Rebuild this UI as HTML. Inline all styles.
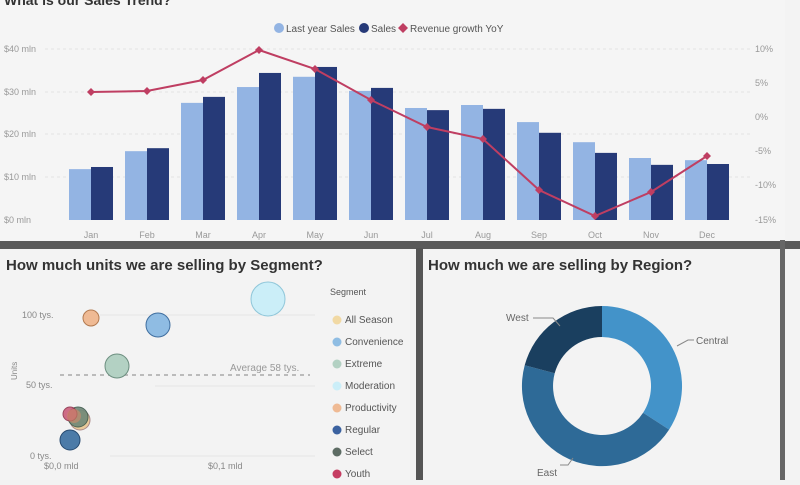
<!DOCTYPE html><html><head><meta charset="utf-8"><style>
body{margin:0;width:800px;height:480px;overflow:hidden;background:#f2f2f2;font-family:"Liberation Sans",sans-serif}
</style></head><body>
<svg width="800" height="480" xmlns="http://www.w3.org/2000/svg" font-family="Liberation Sans, sans-serif">
<rect width="800" height="480" fill="#f3f3f3"/>
<rect x="0" y="0" width="785" height="243" fill="#f5f5f5"/>
<rect x="0" y="241" width="800" height="8" fill="#5a5a5a"/>
<rect x="416" y="248" width="7" height="232" fill="#555"/>
<rect x="780" y="240" width="5" height="240" fill="#666"/>
<text x="4" y="5" font-size="14" font-weight="bold" fill="#333">What is our Sales Trend?</text>
<circle cx="279" cy="28" r="5" fill="#93b4e3"/><text x="286" y="32" font-size="10" fill="#555">Last year Sales</text>
<circle cx="364" cy="28" r="5" fill="#263a78"/><text x="371" y="32" font-size="10" fill="#555">Sales</text>
<path d="M403 23l5 5-5 5-5-5z" fill="#bf3e62"/><text x="410" y="32" font-size="10" fill="#555">Revenue growth YoY</text>
<g font-size="9" fill="#999">
<text x="4" y="52">$40 mln</text><text x="4" y="95">$30 mln</text><text x="4" y="137">$20 mln</text><text x="4" y="180">$10 mln</text><text x="4" y="223">$0 mln</text>
<text x="755" y="52">10%</text><text x="755" y="86">5%</text><text x="755" y="120">0%</text><text x="755" y="154">-5%</text><text x="755" y="188">-10%</text><text x="755" y="223">-15%</text>
</g>
<g stroke="#e2e2e2" stroke-dasharray="3,3"><line x1="45" y1="49" x2="750" y2="49"/><line x1="45" y1="92" x2="750" y2="92"/><line x1="45" y1="134" x2="750" y2="134"/><line x1="45" y1="177" x2="750" y2="177"/></g>
<g id="bars"></g>
<g font-size="9" fill="#999" text-anchor="middle" id="months"></g>
<polyline id="ln" fill="none" stroke="#bf3e62" stroke-width="2"/>
<g id="pts" fill="#bf3e62"></g>
<text x="6" y="270" font-size="15" font-weight="bold" fill="#333">How much units we are selling by Segment?</text>
<g font-size="9" fill="#888">
<text x="22" y="318">100 tys.</text><text x="26" y="388">50 tys.</text><text x="30" y="459">0 tys.</text>
<text x="44" y="469">$0,0 mld</text><text x="208" y="469">$0,1 mld</text>
<text x="17" y="380" transform="rotate(-90 17 380)" font-size="8">Units</text>
<text x="230" y="371" font-size="10" fill="#999">Average 58 tys.</text>
</g>
<g stroke="#e6e6e6"><line x1="100" y1="315" x2="315" y2="315"/><line x1="155" y1="386" x2="315" y2="386"/><line x1="110" y1="456" x2="315" y2="456"/></g>
<line x1="60" y1="375" x2="310" y2="375" stroke="#bbb" stroke-width="2" stroke-dasharray="4,4"/>
<g stroke-width="1">
<circle cx="268" cy="299" r="17" fill="#cbeef8" stroke="#8fc6d9"/>
<circle cx="91" cy="318" r="8" fill="#efba94" stroke="#b37a50"/>
<circle cx="158" cy="325" r="12" fill="#8fbce3" stroke="#3f6e9f"/>
<circle cx="117" cy="366" r="12" fill="#b3d1c3" stroke="#6d8f80"/>
<circle cx="80" cy="420" r="10" fill="#e9c99a" stroke="#a88"/>
<circle cx="78" cy="417" r="10" fill="#708878" stroke="#3e5a4c" opacity=".9"/>
<circle cx="70" cy="414" r="7" fill="#c85574" stroke="#8a2a45" opacity=".85"/>
<circle cx="74" cy="416" r="7" fill="#d08a6a" opacity=".6"/>
<circle cx="70" cy="440" r="10" fill="#4c7ba8" stroke="#274a70"/>
</g>
<g font-size="10" fill="#555">
<text x="330" y="295" font-size="9">Segment</text>
<circle cx="337" cy="320" r="4.5" fill="#f1d9a4"/><text x="345" y="323">All Season</text>
<circle cx="337" cy="342" r="4.5" fill="#8fbde3"/><text x="345" y="345">Convenience</text>
<circle cx="337" cy="364" r="4.5" fill="#b3d1c3"/><text x="345" y="367">Extreme</text>
<circle cx="337" cy="386" r="4.5" fill="#cbeef8"/><text x="345" y="389">Moderation</text>
<circle cx="337" cy="408" r="4.5" fill="#efba94"/><text x="345" y="411">Productivity</text>
<circle cx="337" cy="430" r="4.5" fill="#3b62a0"/><text x="345" y="433">Regular</text>
<circle cx="337" cy="452" r="4.5" fill="#5d6c64"/><text x="345" y="455">Select</text>
<circle cx="337" cy="474" r="4.5" fill="#c53d62"/><text x="345" y="477">Youth</text>
</g>
<text x="428" y="270" font-size="15" font-weight="bold" fill="#333">How much we are selling by Region?</text>
<g id="donut"></g>
<g font-size="10" fill="#666" stroke="#888" stroke-width="1">
<polyline points="533,318 553,318 560,326" fill="none"/><text x="506" y="321" stroke="none">West</text>
<polyline points="677,346 688,340 694,340" fill="none"/><text x="696" y="344" stroke="none">Central</text>
<polyline points="560,465 568,465 573,458" fill="none"/><text x="537" y="476" stroke="none">East</text>
</g>
</svg>
<script>
var L=[11.9,16.1,27.4,31.1,33.5,30.2,26.2,26.9,22.9,18.2,14.5,14],D=[12.4,16.8,28.8,34.4,35.8,30.9,25.7,26,20.4,15.7,12.9,13.1],
P=[92,91,80,50,69,100,127,139,190,216,192,156],M=["Jan","Feb","Mar","Apr","May","Jun","Jul","Aug","Sep","Oct","Nov","Dec"];
var ns="http://www.w3.org/2000/svg",b=document.getElementById('bars'),m=document.getElementById('months'),pt=document.getElementById('pts'),pp=[];
function el(t,a,p){var e=document.createElementNS(ns,t);for(var k in a)e.setAttribute(k,a[k]);p.appendChild(e);return e}
for(var i=0;i<12;i++){var c=91+i*56;
el('rect',{x:c-22,y:220-L[i]*4.275,width:22,height:L[i]*4.275,fill:'#93b4e3'},b);
el('rect',{x:c,y:220-D[i]*4.275,width:22,height:D[i]*4.275,fill:'#263a78'},b);
el('text',{x:c,y:238},m).textContent=M[i];
pp.push(c+','+P[i]);el('path',{d:'M'+c+' '+(P[i]-4)+'l4 4-4 4-4-4z'},pt);}
document.getElementById('ln').setAttribute('points',pp.join(' '));
var dn=document.getElementById('donut'),cx=602,cy=386,R=80,r=49;
function arc(a0,a1,col){function p(a,rr){a=(a-90)*Math.PI/180;return (cx+rr*Math.cos(a)).toFixed(1)+' '+(cy+rr*Math.sin(a)).toFixed(1)}
var lg=(a1-a0)>180?1:0;el('path',{d:'M'+p(a0,R)+'A'+R+' '+R+' 0 '+lg+' 1 '+p(a1,R)+'L'+p(a1,r)+'A'+r+' '+r+' 0 '+lg+' 0 '+p(a0,r)+'Z',fill:col},dn)}
arc(0,123,'#4393c9');arc(123,285,'#2e6a97');arc(285,360,'#1a3f5f');
</script>
</body></html>
